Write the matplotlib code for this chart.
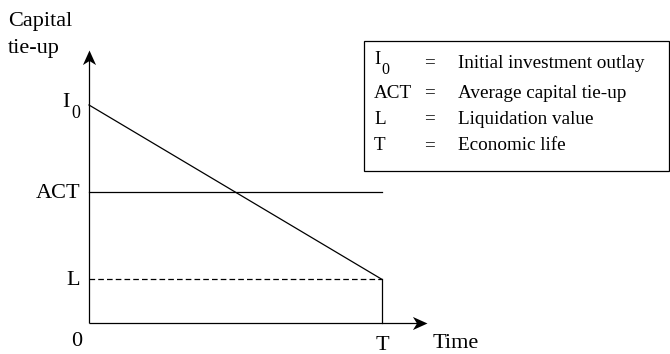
import matplotlib
matplotlib.use("Agg")
import matplotlib.pyplot as plt
from matplotlib.path import Path

plt.rcParams['font.family'] = ['Liberation Serif', 'DejaVu Serif']

# ---- data ----
time_points = [0.0, 1.0]            # 0 and T
capital_tieup = [1.0, 0.2]          # I0 declining to L
initial_outlay = 1.0
liquidation_value = 0.2
average_tieup = 0.6
y_level_values = [average_tieup, liquidation_value]
y_level_labels = ["ACT", "L"]
legend_symbols = ["I", "ACT", "L", "T"]
legend_texts = ["Initial investment outlay", "Average capital tie-up",
                "Liquidation value", "Economic life"]

fig = plt.figure(figsize=(6.70, 3.54), dpi=100)
ax = fig.add_axes([0, 0, 1, 1])
ax.set_xlim(-89/293, (670-89)/293)
ax.set_ylim(-31/218, 323/218)
ax.axis('off')

lw = 0.9
k = "black"
y_tip = 1.253
x_tip = 1.154

# stealth-like arrowhead markers
right_head = Path([(0, 0), (-1, 0.45), (-0.72, 0), (-1, -0.45), (0, 0)],
                  [Path.MOVETO, Path.LINETO, Path.LINETO, Path.LINETO, Path.CLOSEPOLY])
up_head = Path([(0, 0), (0.45, -1), (0, -0.72), (-0.45, -1), (0, 0)],
               [Path.MOVETO, Path.LINETO, Path.LINETO, Path.LINETO, Path.CLOSEPOLY])

ax.plot([0, 0], [0, y_tip - 0.02], color=k, lw=lw, solid_capstyle='butt')
ax.plot([0, x_tip - 0.02], [0, 0], color=k, lw=lw, solid_capstyle='butt')
ax.plot([0], [y_tip], marker=up_head, ms=21, color=k, mew=0)
ax.plot([x_tip], [0], marker=right_head, ms=21, color=k, mew=0)

# capital tie-up line
ax.plot(time_points, capital_tieup, color=k, lw=lw)
# average capital tie-up
ax.plot(time_points, [average_tieup, average_tieup], color=k, lw=lw)
# liquidation value dashed
ax.plot(time_points, [liquidation_value, liquidation_value], color=k,
        lw=lw, dashes=(4.5, 2.5))
# vertical at T
ax.plot([time_points[1], time_points[1]], [0, liquidation_value], color=k, lw=lw)

fs = 16
for v, lab in zip(y_level_values, y_level_labels):
    ax.annotate(lab, xy=(0, v), xytext=(-9, -1), textcoords='offset pixels',
                ha="right", va="center", fontsize=fs)
# I0 label with subscript
ax.annotate("I", xy=(0, initial_outlay), xytext=(-19, 2.5), textcoords='offset pixels',
            ha="right", va="center", fontsize=fs)
ax.annotate("0", xy=(0, initial_outlay), xytext=(-18, -9), textcoords='offset pixels',
            ha="left", va="center", fontsize=13)

ax.annotate("0", xy=(0, 0), xytext=(-12, -19), textcoords='offset pixels',
            ha="center", va="center", fontsize=fs)
ax.annotate("T", xy=(time_points[1], 0), xytext=(0, -23), textcoords='offset pixels',
            ha="center", va="center", fontsize=fs)
ax.annotate("Time", xy=(x_tip, 0), xytext=(5, -20), textcoords='offset pixels',
            ha="left", va="center", fontsize=fs)

fig.text(8/670, 1 - 26/354, "Capital", ha="left", va="baseline", fontsize=fs)
fig.text(8/670, 1 - 53/354, "tie-up", ha="left", va="baseline", fontsize=fs)

# legend box
fig.patches.append(plt.Rectangle((364/670, 1-171/354), (669-364)/670, 130/354,
                                 transform=fig.transFigure, fill=False,
                                 edgecolor=k, lw=lw))
row_y = [59, 93, 119, 146]
lfs = 13.8
for i, (yy, sym, txt) in enumerate(zip(row_y, legend_symbols, legend_texts)):
    fy = 1 - yy/354
    fig.text(374/670, fy, sym, ha="left", va="center", fontsize=lfs)
    if i == 0:
        fig.text(381/670, 1 - 70/354, "0", ha="left", va="center", fontsize=11.5)
    fig.text(429/670, 1 - (row_y[i] if i else 63)/354, "=", ha="center", va="center", fontsize=lfs)
    fig.text(458/670, 1 - (row_y[i] if i else 63)/354, txt, ha="left", va="center", fontsize=lfs)

fig.savefig("out.png", dpi=100)
